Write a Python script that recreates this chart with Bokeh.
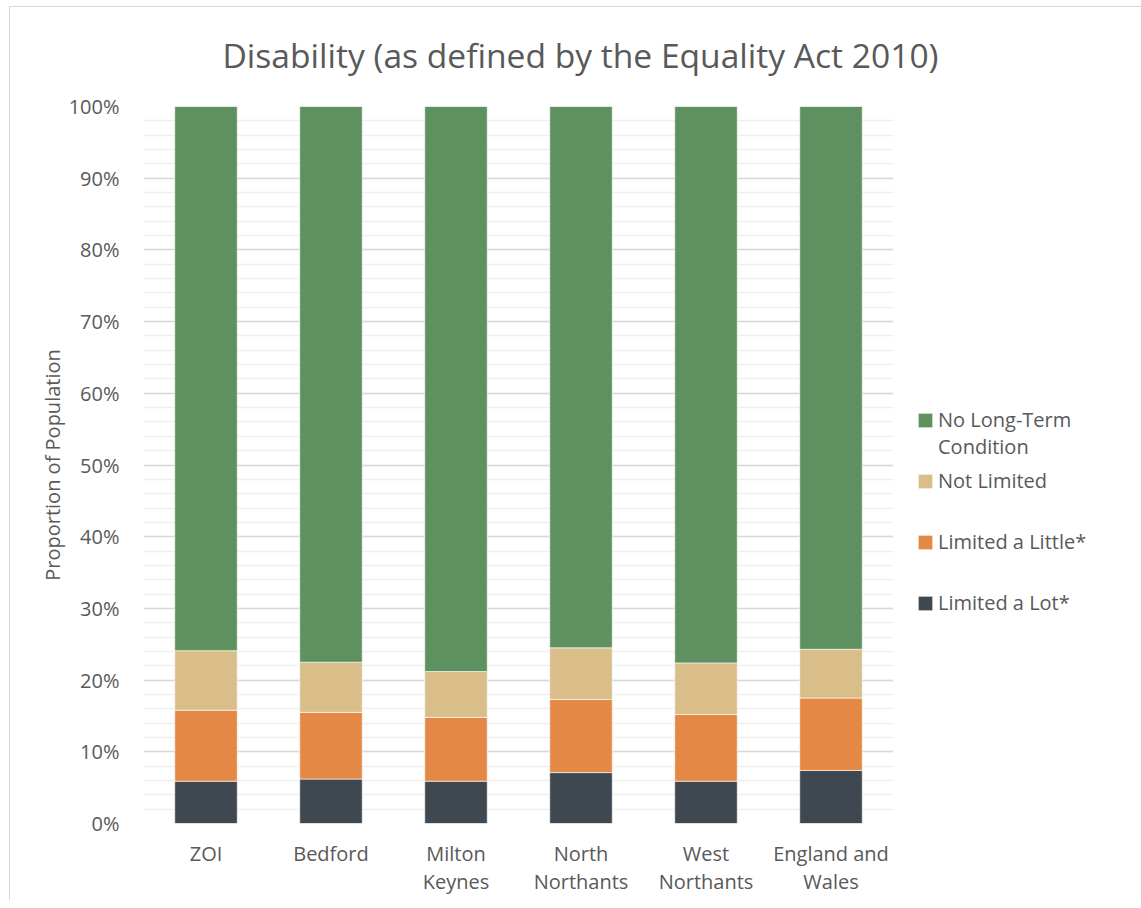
from bokeh.plotting import figure
from bokeh.models import (Range1d, FixedTicker, SingleIntervalTicker, PrintfTickFormatter,
                          Legend, LegendItem, ColumnDataSource)
from bokeh.embed import file_html
from bokeh.resources import INLINE

# ---- data ----
categories = ["ZOI", "Bedford", "Milton\nKeynes", "North\nNorthants", "West\nNorthants", "England and\nWales"]
limited_lot = [5.9, 6.2, 5.9, 7.1, 5.9, 7.4]
limited_little = [9.9, 9.3, 8.9, 10.2, 9.3, 10.1]
not_limited = [8.3, 7.0, 6.4, 7.2, 7.2, 6.8]
no_condition = [75.9, 77.5, 78.8, 75.5, 77.6, 75.7]
series_keys = ["limited_lot", "limited_little", "not_limited", "no_condition"]
# legend labels (blank lines only pad the legend rows so they line up like the original)
series_names = ["Limited a Lot*", "\nLimited a Little*\n ", "Not Limited", "\nNo Long-Term\nCondition"]
colors = ["#3f4750", "#e48945", "#d9be89", "#5f9160"]
title_text = "Disability (as defined by the Equality Act 2010)"
y_label = "Proportion of Population"

FONT = "Open Sans"
TXT = "#595959"

xs = list(range(len(categories)))
source = ColumnDataSource(dict(x=xs, limited_lot=limited_lot, limited_little=limited_little,
                               not_limited=not_limited, no_condition=no_condition))

p = figure(frame_width=750, frame_height=717,
           min_border_left=143, min_border_right=240, min_border_top=106, min_border_bottom=77,
           x_range=Range1d(-0.5, len(categories) - 0.5), y_range=Range1d(0, 100),
           output_backend="svg", toolbar_location=None, tools="")
p.outline_line_color = None
p.background_fill_color = "white"
p.border_fill_alpha = 0
p.styles = {
    "background-color": "white",
    "background-image": "linear-gradient(#d9d9d9, #d9d9d9), linear-gradient(#d9d9d9, #d9d9d9)",
    "background-size": "1px 100%, 100% 1px",
    "background-position": "9px 6px, 9px 6px",
    "background-repeat": "no-repeat",
}

renderers = p.vbar_stack(series_keys, x="x", width=0.5, source=source, color=colors,
                         line_color="white", line_width=0.6)

# title
p.title.text = title_text
p.title.text_font = FONT
p.title.text_font_size = "33.6px"
p.title.text_font_style = "normal"
p.title.text_color = TXT
p.title.align = "left"
p.title.vertical_align = "bottom"
p.title.offset = 79
p.title.standoff = 57

# grid
p.xgrid.visible = False
p.ygrid.ticker = SingleIntervalTicker(interval=10, num_minor_ticks=5)
p.ygrid.grid_line_color = "#d9d9d9"
p.ygrid.grid_line_width = 1.3
p.ygrid.minor_grid_line_color = "#efefef"
p.ygrid.minor_grid_line_width = 1.3
p.ygrid.level = "underlay"

# y axis
ya = p.yaxis[0]
ya.ticker = FixedTicker(ticks=list(range(0, 101, 10)))
ya.formatter = PrintfTickFormatter(format="%d%%")
ya.axis_line_color = None
ya.major_tick_line_color = None
ya.minor_tick_line_color = None
ya.major_label_standoff = 18
ya.major_label_text_font = FONT
ya.major_label_text_font_size = "20px"
ya.major_label_text_color = TXT
ya.axis_label = y_label
ya.axis_label_text_font = FONT
ya.axis_label_text_font_size = "20px"
ya.axis_label_text_font_style = "normal"
ya.axis_label_text_color = TXT
ya.axis_label_standoff = 0

# x axis
xa = p.xaxis[0]
xa.ticker = FixedTicker(ticks=xs)
xa.major_label_overrides = {i: c for i, c in zip(xs, categories)}
xa.axis_line_color = None
xa.major_tick_line_color = None
xa.minor_tick_line_color = None
xa.major_label_standoff = 10
xa.major_label_text_font = FONT
xa.major_label_text_font_size = "20px"
xa.major_label_text_color = TXT
xa.major_label_text_line_height = 1.05

# legend (top to bottom: reverse of stacking order)
items = [LegendItem(label=series_names[i], renderers=[renderers[i]]) for i in (3, 2, 1, 0)]
legend = Legend(items=items, location=(23, 200), orientation="vertical",
                glyph_width=18, glyph_height=18, label_standoff=4,
                label_text_font=FONT, label_text_font_size="20px", label_text_color=TXT,
                label_height=41, spacing=0,
                padding=10, margin=0, border_line_color=None, background_fill_alpha=0)
p.add_layout(legend, "right")

open("out.html", "w").write(file_html(p, INLINE))
